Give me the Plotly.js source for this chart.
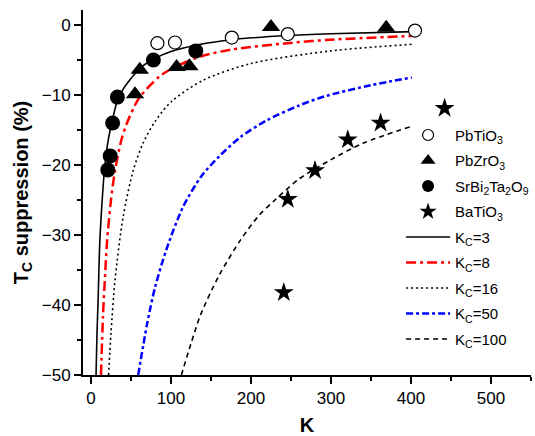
<!DOCTYPE html>
<html>
<head>
<meta charset="utf-8">
<script src="https://cdn.plot.ly/plotly-3.0.1.min.js"></script>
<style>
  html, body { margin: 0; padding: 0; background: #fff; }
  #chart { width: 535px; height: 436px; }
</style>
</head>
<body>
<div id="chart"></div>
<script>
// Measured Tc suppression (%) versus K for four ferroelectrics
const pbtio3K = [83, 105, 176, 246, 405];
const pbtio3Y = [-2.6, -2.5, -1.8, -1.3, -0.8];

const pbzro3K = [55, 61, 107, 123, 225, 369];
const pbzro3Y = [-9.9, -6.4, -6.0, -5.9, -0.3, -0.4];

const sbtK = [21, 24, 27, 33, 78, 131];
const sbtY = [-20.7, -18.7, -14.0, -10.3, -5.0, -3.7];

const batio3K = [241, 246, 280, 321, 362, 442];
const batio3Y = [-38.2, -24.9, -20.8, -16.4, -14.0, -11.9];

// Model curves for several values of K_C
const kc3K = [6.3, 7.5, 8.7, 11, 14, 17, 21.6, 27, 33, 40, 49, 60, 78, 100, 137, 176, 246, 300, 403];
const kc3Y = [-50, -44, -40, -31, -25, -20.5, -16.4, -13.5, -10.8, -9.2, -7.8, -6.3, -4.9, -3.8, -2.76, -2.1, -1.5, -1.25, -0.95];

const kc8K = [12.5, 15, 18, 20, 25, 30, 38, 45, 57.5, 63, 86, 107, 137, 176, 246, 300, 401];
const kc8Y = [-50, -41.5, -35, -31, -25, -20.8, -16.4, -14, -10.9, -10, -7.3, -5.9, -4.5, -3.5, -2.6, -2.1, -1.57];

const kc16K = [22, 25, 30, 40, 53, 65, 80, 100, 140, 200, 300, 401];
const kc16Y = [-50, -44, -36.5, -27.5, -20.7, -16.9, -13.8, -11, -7.9, -5.5, -3.7, -2.76];

const kc50K = [59, 70, 80, 94.5, 115, 138, 160, 187, 220, 260, 295, 350, 401];
const kc50Y = [-50, -42.8, -37.5, -32, -26, -21.6, -18.8, -16, -13.6, -11.5, -10.1, -8.6, -7.5];

const kc100K = [113, 125, 137, 160, 187, 210, 230, 260, 299, 340, 400];
const kc100Y = [-50, -45.5, -41.4, -35.8, -30.7, -27.2, -25, -22, -19.3, -16.9, -14.5];

const FONT = 'Arial, "Liberation Sans", sans-serif';

function curve(x, y, name, color, width, dash, rank) {
  return {
    x: x, y: y, name: name, type: 'scatter', mode: 'lines',
    line: { color: color, width: width, dash: dash, shape: 'spline', smoothing: 0.8 },
    legendgroup: name, legendrank: rank
  };
}

// Data markers on the plot (legend entries use smaller key symbols below)
function points(x, y, name, marker) {
  return {
    x: x, y: y, name: name, type: 'scatter', mode: 'markers',
    marker: marker, legendgroup: name, showlegend: false, cliponaxis: false
  };
}

function legendKey(name, marker, rank) {
  return {
    x: [null], y: [null], name: name, type: 'scatter', mode: 'markers',
    marker: marker, legendgroup: name, legendrank: rank, hoverinfo: 'skip'
  };
}

const NAME_PT = 'PbTiO<sub>3</sub>';
const NAME_PZ = 'PbZrO<sub>3</sub>';
const NAME_SBT = 'SrBi<sub>2</sub>Ta<sub>2</sub>O<sub>9</sub>';
const NAME_BT = 'BaTiO<sub>3</sub>';

const openCircle = s => ({ symbol: 'circle', size: s, color: '#ffffff', line: { color: '#000000', width: 1.2 } });
const solid = (sym, s) => ({ symbol: sym, size: s, color: '#000000', line: { width: 0 } });

const traces = [
  curve(kc3K, kc3Y, 'K<sub>C</sub>=3', '#000000', 1.6, 'solid', 5),
  curve(kc8K, kc8Y, 'K<sub>C</sub>=8', '#ff0000', 2.5, '10px,4px,3px,4px', 6),
  curve(kc16K, kc16Y, 'K<sub>C</sub>=16', '#000000', 1.6, '2px,3px', 7),
  curve(kc50K, kc50Y, 'K<sub>C</sub>=50', '#0000ff', 2.5, '7px,3px,3px,3px', 8),
  curve(kc100K, kc100Y, 'K<sub>C</sub>=100', '#000000', 1.6, '5px,4px', 9),
  points(pbtio3K, pbtio3Y, NAME_PT, openCircle(13)),
  points(pbzro3K, pbzro3Y, NAME_PZ, solid('triangle-up', 16)),
  points(sbtK, sbtY, NAME_SBT, solid('circle', 15)),
  points(batio3K, batio3Y, NAME_BT, solid('star', 15)),
  legendKey(NAME_PT, openCircle(11), 1),
  legendKey(NAME_PZ, solid('triangle-up', 13), 2),
  legendKey(NAME_SBT, solid('circle', 12), 3),
  legendKey(NAME_BT, solid('star', 13), 4)
];

const layout = {
  width: 535, height: 436,
  margin: { l: 83, r: 4, t: 10, b: 61, autoexpand: false },
  paper_bgcolor: '#ffffff', plot_bgcolor: '#ffffff',
  font: { family: FONT, color: '#000000', size: 17 },
  showlegend: true,
  legend: {
    x: 0.71, y: 0.702, xanchor: 'left', yanchor: 'top',
    bgcolor: 'rgba(0,0,0,0)', borderwidth: 0,
    font: { family: FONT, size: 15, color: '#000000' },
    itemwidth: 44, itemsizing: 'trace', tracegroupgap: 3
  },
  xaxis: {
    range: [-10, 550], dtick: 100, tick0: 0,
    showline: true, linecolor: '#000000', linewidth: 2,
    ticks: 'outside', ticklen: 7, tickwidth: 2, tickcolor: '#000000',
    minor: { dtick: 50, tick0: 0, ticks: 'outside', ticklen: 4, tickwidth: 2, tickcolor: '#000000' },
    showgrid: false, zeroline: false,
    tickfont: { family: FONT, size: 17 },
    title: { text: '<b>K</b>', font: { family: FONT, size: 20 }, standoff: 18 }
  },
  yaxis: {
    range: [-50, 2.14], dtick: 10, tick0: 0,
    showline: true, linecolor: '#000000', linewidth: 2,
    ticks: 'outside', ticklen: 7, tickwidth: 2, tickcolor: '#000000',
    minor: { dtick: 5, tick0: 0, ticks: 'outside', ticklen: 4, tickwidth: 2, tickcolor: '#000000' },
    showgrid: false, zeroline: false,
    tickfont: { family: FONT, size: 17 },
    title: { text: '<b>T<sub>C</sub> suppression (%)</b>', font: { family: FONT, size: 20 }, standoff: 8 }
  }
};

Plotly.newPlot('chart', traces, layout, { displayModeBar: false, staticPlot: true });
</script>
</body>
</html>
